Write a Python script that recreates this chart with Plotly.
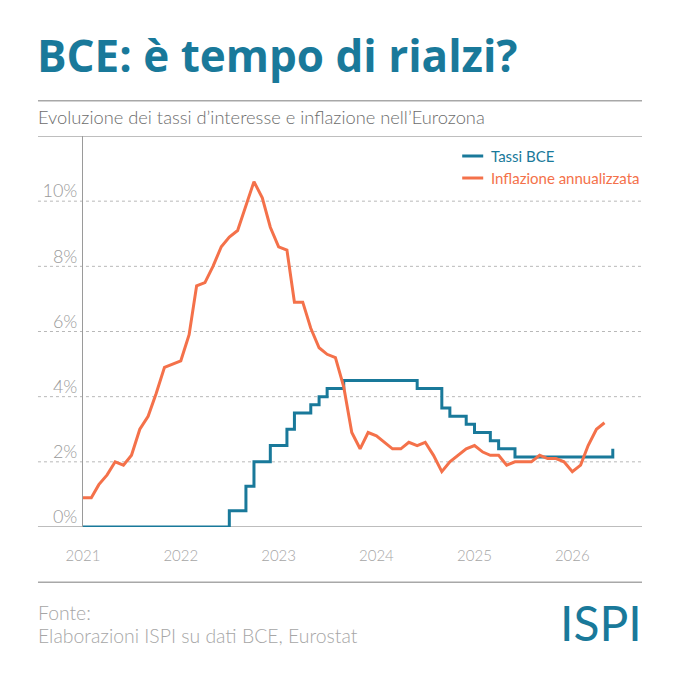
import pandas as pd
import plotly.graph_objects as go

# ---------------- data ----------------
MONTHS = pd.date_range("2021-01-01", "2026-06-01", freq="MS")

TASSI_BCE = [
    0.0, 0.0, 0.0, 0.0, 0.0, 0.0, 0.0, 0.0, 0.0, 0.0, 0.0, 0.0,      # 2021
    0.0, 0.0, 0.0, 0.0, 0.0, 0.0, 0.5, 0.5, 1.25, 2.0, 2.0, 2.5,     # 2022
    2.5, 3.0, 3.5, 3.5, 3.75, 4.0, 4.25, 4.25, 4.5, 4.5, 4.5, 4.5,   # 2023
    4.5, 4.5, 4.5, 4.5, 4.5, 4.25, 4.25, 4.25, 3.65, 3.4, 3.4, 3.15, # 2024
    2.9, 2.9, 2.65, 2.4, 2.4, 2.15, 2.15, 2.15, 2.15, 2.15, 2.15, 2.15,  # 2025
    2.15, 2.15, 2.15, 2.15, 2.15, 2.4,                               # 2026
]

INFLAZIONE = [
    0.9, 0.9, 1.3, 1.6, 2.0, 1.9, 2.2, 3.0, 3.4, 4.1, 4.9, 5.0,      # 2021
    5.1, 5.9, 7.4, 7.5, 8.0, 8.6, 8.9, 9.1, 9.9, 10.6, 10.1, 9.2,    # 2022
    8.6, 8.5, 6.9, 6.9, 6.1, 5.5, 5.3, 5.2, 4.3, 2.9, 2.4, 2.9,      # 2023
    2.8, 2.6, 2.4, 2.4, 2.6, 2.5, 2.6, 2.2, 1.7, 2.0, 2.2, 2.4,      # 2024
    2.5, 2.3, 2.2, 2.2, 1.9, 2.0, 2.0, 2.0, 2.2, 2.1, 2.1, 2.0,      # 2025
    1.7, 1.9, 2.5, 3.0, 3.2,                                         # 2026
]

SERIES_NAMES = ["Tassi BCE", "Inflazione annualizzata"]
X_TICK_VALS = ["2021-01-01", "2022-01-01", "2023-01-01", "2024-01-01", "2025-01-01", "2026-01-01"]
X_TICK_TEXT = ["2021", "2022", "2023", "2024", "2025", "2026"]
Y_TICK_VALS = [0, 2, 4, 6, 8, 10]
Y_TICK_TEXT = ["0%", "2%", "4%", "6%", "8%", "10%"]
Y_MAX = 12

TITLE = "BCE: è tempo di rialzi?"
SUBTITLE = "Evoluzione dei tassi d’interesse e inflazione nell’Eurozona"
SOURCE_1 = "Fonte:"
SOURCE_2 = "Elaborazioni ISPI su dati BCE, Eurostat"
LOGO = "ISPI"

# ---------------- style ----------------
TEAL = "#19799a"
ORANGE = "#f4714a"
RULE = "#a8a8a8"
GRID = "#b8b8b8"
LIGHT_TXT = "#a6a6a6"
FONT = "Lato"
TITLE_FONT = "Open Sans"

OFF = 8                      # page margin of the browser body
FIG_W = FIG_H = 680 - OFF
PLOT_L, PLOT_R, PLOT_T, PLOT_B = 83, 641.7, 136, 527   # page pixels
L = PLOT_L - OFF
T = PLOT_T - OFF
R = FIG_W - (PLOT_R - OFF)
B = FIG_H - (PLOT_B - OFF)
W = PLOT_R - PLOT_L
H = PLOT_B - PLOT_T


def px_to_paper_x(px):
    return (px - PLOT_L) / W


def px_to_paper_y(py):
    return (PLOT_B - py) / H


LEFT = px_to_paper_x(38)

fig = go.Figure()

fig.add_trace(go.Scatter(
    x=MONTHS[:len(TASSI_BCE)], y=TASSI_BCE, name=SERIES_NAMES[0],
    mode="lines", line=dict(color=TEAL, width=3, shape="hv"),
    showlegend=False, cliponaxis=False,
))
fig.add_trace(go.Scatter(
    x=MONTHS[:len(INFLAZIONE)], y=INFLAZIONE, name=SERIES_NAMES[1],
    mode="lines", line=dict(color=ORANGE, width=3),
    showlegend=False, cliponaxis=False,
))

shapes = []
for v in Y_TICK_VALS[1:]:
    shapes.append(dict(type="line", xref="paper", yref="y", x0=LEFT, x1=1, y0=v, y1=v,
                       line=dict(color=GRID, width=1, dash="dot"), layer="below"))
shapes.append(dict(type="line", xref="paper", yref="y", x0=LEFT, x1=1, y0=0, y1=0,
                   line=dict(color="#bdbdbd", width=2), layer="below"))
shapes.append(dict(type="line", xref="paper", yref="y", x0=LEFT, x1=1, y0=Y_MAX, y1=Y_MAX,
                   line=dict(color=RULE, width=1.5), layer="below"))
for py in (100.7, 582.3):
    yy = px_to_paper_y(py)
    shapes.append(dict(type="line", xref="paper", yref="paper", x0=LEFT, x1=1, y0=yy, y1=yy,
                       line=dict(color=RULE, width=1.5)))

legend_rows = [(SERIES_NAMES[0], TEAL, 156), (SERIES_NAMES[1], ORANGE, 178)]
annotations = []
for name, col, py in legend_rows:
    yy = px_to_paper_y(py)
    shapes.append(dict(type="line", xref="paper", yref="paper",
                       x0=px_to_paper_x(462), x1=px_to_paper_x(483), y0=yy, y1=yy,
                       line=dict(color=col, width=3)))
    annotations.append(dict(text=name, xref="paper", yref="paper", x=px_to_paper_x(489),
                            y=yy, xanchor="left", yanchor="middle", showarrow=False,
                            font=dict(family=FONT, size=15, color=col)))

annotations += [
    dict(text=f"<b>{TITLE}</b>", xref="paper", yref="paper", x=px_to_paper_x(35),
         y=px_to_paper_y(55), xanchor="left", yanchor="middle", showarrow=False,
         font=dict(family=TITLE_FONT, size=44, color=TEAL)),
    dict(text=SUBTITLE, xref="paper", yref="paper", x=px_to_paper_x(36),
         y=px_to_paper_y(117), xanchor="left", yanchor="middle", showarrow=False,
         font=dict(family=FONT, size=18.3, color="#6c6c6c", weight=300)),
    dict(text=SOURCE_1, xref="paper", yref="paper", x=px_to_paper_x(36),
         y=px_to_paper_y(612), xanchor="left", yanchor="middle", showarrow=False,
         font=dict(family=FONT, size=19.4, color=LIGHT_TXT, weight=300)),
    dict(text=SOURCE_2, xref="paper", yref="paper", x=px_to_paper_x(36),
         y=px_to_paper_y(635), xanchor="left", yanchor="middle", showarrow=False,
         font=dict(family=FONT, size=19.4, color=LIGHT_TXT, weight=300)),
    dict(text=LOGO, xref="paper", yref="paper", x=px_to_paper_x(644),
         y=px_to_paper_y(622), xanchor="right", yanchor="middle", showarrow=False,
         font=dict(family=FONT, size=48, color=TEAL, weight=400)),
]

fig.update_layout(
    width=FIG_W, height=FIG_H, autosize=False,
    margin=dict(l=L, r=R, t=T, b=B, pad=0),
    paper_bgcolor="white", plot_bgcolor="white",
    shapes=shapes, annotations=annotations,
    xaxis=dict(
        type="date", range=["2021-01-01", "2026-09-18"],
        tickvals=X_TICK_VALS, ticktext=X_TICK_TEXT,
        showgrid=False, zeroline=False, showline=False, ticks="",
        tickfont=dict(family=FONT, size=15, color=LIGHT_TXT, weight=300),
        ticklabelstandoff=18,
    ),
    yaxis=dict(
        range=[0, Y_MAX], tickvals=Y_TICK_VALS, ticktext=Y_TICK_TEXT,
        showgrid=False, zeroline=False, showline=True, linecolor="#9a9a9a", linewidth=1,
        ticks="", ticklabelposition="outside", ticklabelstandoff=1, ticklabelshift=-10,
        tickfont=dict(family=FONT, size=18, color="#9a9a9a", weight=300),
    ),
)

fig.write_html("out.html")
